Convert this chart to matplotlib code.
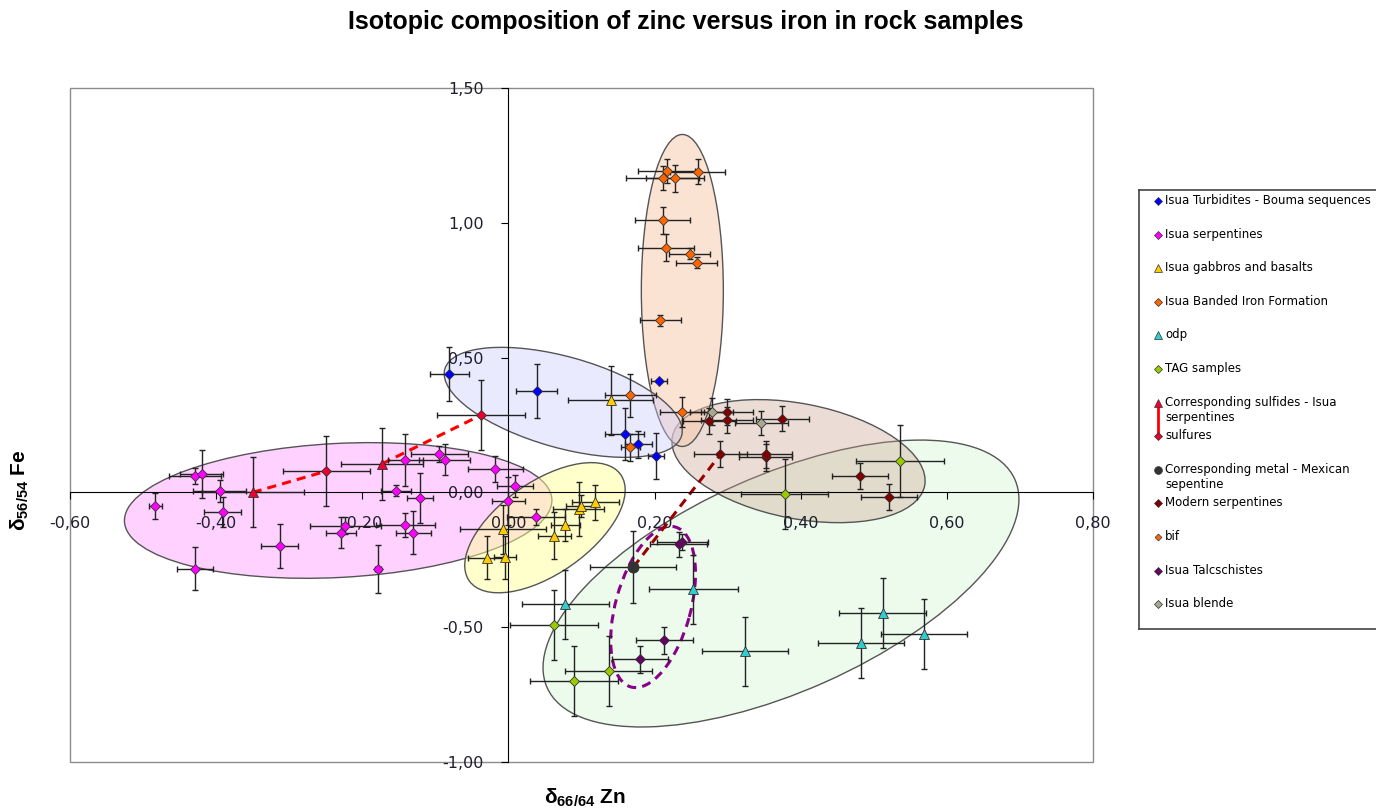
import numpy as np
import matplotlib
matplotlib.use("Agg")
import matplotlib.pyplot as plt
from matplotlib.patches import Ellipse, Rectangle
from matplotlib.transforms import ScaledTranslation
from matplotlib.colors import to_rgba
from matplotlib.ticker import FuncFormatter

plt.rcParams['font.family'] = ['DejaVu Sans']
plt.rcParams['mathtext.fontset'] = 'custom'
plt.rcParams['mathtext.rm'] = 'Liberation Sans'
plt.rcParams['mathtext.bf'] = 'Liberation Sans:bold'

# --- data (d66/64Zn, d56/54Fe, errors) ---
turb_x = [-0.081, 0.039, 0.159, 0.178, 0.206, 0.202]
turb_y = [0.438, 0.376, 0.218, 0.178, 0.413, 0.135]
turb_xe = [0.027, 0.028, 0.027, 0.018, 0.011, 0.011]
turb_ye = [0.100, 0.100, 0.096, 0.050, 0.005, 0.087]

serp_x = [-0.483, -0.429, -0.420, -0.395, -0.391, -0.429, -0.313, -0.229, -0.223, -0.179,
          -0.154, -0.141, -0.121, -0.141, -0.130, -0.095, -0.087, -0.018, 0.009, 0.000, 0.038]
serp_y = [-0.051, 0.060, 0.069, 0.005, -0.073, -0.283, -0.199, -0.150, -0.123, -0.283,
          0.007, 0.119, -0.022, -0.120, -0.150, 0.141, 0.122, 0.088, 0.023, -0.032, -0.092]
serp_xe = [0.009, 0.035, 0.030, 0.036, 0.025, 0.025, 0.025, 0.020, 0.048, 0.004,
           0.020, 0.024, 0.018, 0.040, 0.024, 0.039, 0.035, 0.038, 0.025, 0.022, 0.040]
serp_ye = [0.048, 0.030, 0.090, 0.040, 0.056, 0.080, 0.080, 0.057, 0.030, 0.089,
           0.020, 0.096, 0.093, 0.044, 0.080, 0.030, 0.056, 0.048, 0.040, 0.090, 0.030]

gab_x = [0.140, -0.007, -0.030, -0.005, 0.063, 0.078, 0.096, 0.099, 0.119]
gab_y = [0.341, -0.137, -0.242, -0.240, -0.160, -0.122, -0.061, -0.051, -0.036]
gab_xe = [0.058, 0.059, 0.026, 0.015, 0.023, 0.020, 0.035, 0.020, 0.032]
gab_ye = [0.127, 0.090, 0.080, 0.080, 0.087, 0.060, 0.100, 0.040, 0.065]

bif_isua_x = [0.217, 0.211, 0.228, 0.259, 0.211, 0.216, 0.248, 0.258, 0.208, 0.167, 0.238]
bif_isua_y = [1.192, 1.165, 1.165, 1.190, 1.009, 0.908, 0.886, 0.852, 0.638, 0.360, 0.299]
bif_isua_xe = [0.039, 0.050, 0.040, 0.038, 0.038, 0.038, 0.028, 0.028, 0.028, 0.035, 0.030]
bif_isua_ye = [0.046, 0.045, 0.050, 0.045, 0.050, 0.050, 0.020, 0.020, 0.020, 0.080, 0.055]

odp_x = [0.078, 0.253, 0.324, 0.512, 0.483, 0.569]
odp_y = [-0.415, -0.360, -0.589, -0.446, -0.558, -0.524]
odp_xe = [0.059, 0.061, 0.059, 0.059, 0.059, 0.059]
odp_ye = [0.128, 0.128, 0.128, 0.130, 0.130, 0.130]

tag_x = [0.536, 0.378, 0.062, 0.090, 0.137]
tag_y = [0.116, -0.007, -0.493, -0.700, -0.663]
tag_xe = [0.060, 0.060, 0.060, 0.060, 0.060]
tag_ye = [0.133, 0.130, 0.130, 0.130, 0.130]

sulfide_x = [-0.350, -0.173]
sulfide_y = [0.000, 0.106]
sulfide_xe = [0.070, 0.056]
sulfide_ye = [0.130, 0.133]

sulfure_x = [-0.249, -0.038]
sulfure_y = [0.079, 0.286]
sulfure_xe = [0.060, 0.060]
sulfure_ye = [0.130, 0.130]

metal_x = [0.171]
metal_y = [-0.277]
metal_xe = [0.059]
metal_ye = [0.133]

modern_x = [0.275, 0.299, 0.299, 0.375, 0.290, 0.352, 0.352, 0.481, 0.521]
modern_y = [0.265, 0.299, 0.267, 0.274, 0.141, 0.131, 0.141, 0.060, -0.016]
modern_xe = [0.036, 0.036, 0.036, 0.036, 0.036, 0.036, 0.036, 0.038, 0.038]
modern_ye = [0.048, 0.048, 0.048, 0.048, 0.048, 0.050, 0.050, 0.048, 0.048]

bif_x = [0.167]
bif_y = [0.168]
bif_xe = [0.013]
bif_ye = [0.050]

talc_x = [0.238, 0.233, 0.213, 0.180]
talc_y = [-0.183, -0.193, -0.548, -0.619]
talc_xe = [0.035, 0.039, 0.039, 0.038]
talc_ye = [0.030, 0.045, 0.050, 0.050]

blende_x = [0.278, 0.346]
blende_y = [0.300, 0.258]
blende_xe = [0.030, 0.036]
blende_ye = [0.050, 0.045]

labels = ["Isua Turbidites - Bouma sequences", "Isua serpentines", "Isua gabbros and basalts",
          "Isua Banded Iron Formation", "odp", "TAG samples",
          "Corresponding sulfides - Isua\nserpentines", "sulfures",
          "Corresponding metal - Mexican\nsepentine", "Modern serpentines", "bif",
          "Isua Talcschistes", "Isua blende"]

series = [
    (turb_x, turb_y, turb_xe, turb_ye, 'D', 5.6, '#0000FF'),
    (serp_x, serp_y, serp_xe, serp_ye, 'D', 5.6, '#FF00FF'),
    (gab_x, gab_y, gab_xe, gab_ye, '^', 7.4, '#FFCC00'),
    (bif_isua_x, bif_isua_y, bif_isua_xe, bif_isua_ye, 'D', 5.6, '#FF6600'),
    (odp_x, odp_y, odp_xe, odp_ye, '^', 7.4, '#33CCCC'),
    (tag_x, tag_y, tag_xe, tag_ye, 'D', 5.6, '#99CC00'),
    (sulfide_x, sulfide_y, sulfide_xe, sulfide_ye, '^', 7.4, '#EE0033'),
    (sulfure_x, sulfure_y, sulfure_xe, sulfure_ye, 'D', 5.6, '#E8002E'),
    (metal_x, metal_y, metal_xe, metal_ye, 'o', 8.0, '#333333'),
    (modern_x, modern_y, modern_xe, modern_ye, 'D', 5.6, '#800000'),
    (bif_x, bif_y, bif_xe, bif_ye, 'D', 5.0, '#FF6600'),
    (talc_x, talc_y, talc_xe, talc_ye, 'D', 5.6, '#660066'),
    (blende_x, blende_y, blende_xe, blende_ye, 'D', 5.6, '#A8A890'),
]

# outlined sample groups: centre (data), width/height in pixels, angle on screen
groups = [
    ((0.373, -0.338), 512, 216, 24, '#CCF5CC', 0.35),
    ((0.397, 0.116), 257, 115, -11, '#C8A08C', 0.35),
    ((0.238, 0.749), 82, 312, 0, '#F8C8A8', 0.5),
    ((0.075, 0.334), 246, 91, -15.7, '#CCCCFF', 0.4),
    ((-0.233, -0.067), 428, 134, 3, '#FF99FF', 0.45),
    ((0.050, -0.131), 185, 92, 35, '#FFFF99', 0.5),
]
talc_group = ((0.198, -0.425), 166, 75, 74.5)

fig = plt.figure(figsize=(13.76, 8.10), dpi=100)
ax = fig.add_axes([70 / 1376, 1 - 762 / 810, 1023 / 1376, 674 / 810])
ax.set_xlim(-0.6, 0.8)
ax.set_ylim(-1.0, 1.5)

for (cx, cy), w, h, ang, fc, al in groups:
    tr = fig.dpi_scale_trans + ScaledTranslation(cx, cy, ax.transData)
    ax.add_patch(Ellipse((0, 0), w / 100, h / 100, angle=ang, transform=tr,
                         facecolor=to_rgba(fc, al), edgecolor='#555555', lw=1, zorder=1))

(cx, cy), w, h, ang = talc_group
tr = fig.dpi_scale_trans + ScaledTranslation(cx, cy, ax.transData)
ax.add_patch(Ellipse((0, 0), w / 100, h / 100, angle=ang, transform=tr, fill=False,
                     edgecolor='#8B008B', lw=2.2, ls=(0, (3, 2)), zorder=2))

# pairs linked by dashed lines
for i in range(len(sulfide_x)):
    ax.plot([sulfide_x[i], sulfure_x[i]], [sulfide_y[i], sulfure_y[i]],
            color='#FF0000', lw=2.2, ls=(0, (3, 2)), zorder=2)
ax.plot([metal_x[0], modern_x[4]], [metal_y[0], modern_y[4]],
        color='#990000', lw=2.2, ls=(0, (3, 2)), zorder=2)

for x, y, xe, ye, m, ms, c in series:
    ax.errorbar(x, y, xerr=xe, yerr=ye, fmt='none', ecolor='#222222', elinewidth=1,
                capsize=2.5, capthick=1, zorder=3)
    ax.plot(x, y, ls='none', marker=m, ms=ms, mfc=c, mec='#333333', mew=0.6, zorder=4)

for s in ['top', 'right']:
    ax.spines[s].set_visible(False)
for s in ['left', 'bottom']:
    ax.spines[s].set_position(('data', 0))
    ax.spines[s].set_color('black')
ax.add_patch(Rectangle((0, 0), 1, 1, transform=ax.transAxes, fill=False,
                       ec='#8c8c8c', lw=1, clip_on=False, zorder=0))
ax.set_xticks(np.arange(-0.6, 0.81, 0.2))
ax.set_yticks(np.arange(-1.0, 1.51, 0.5))
fmt = FuncFormatter(lambda v, p: f"{v:.2f}".replace('.', ',').replace('-0,00', '0,00'))
ax.xaxis.set_major_formatter(fmt)
ax.yaxis.set_major_formatter(fmt)
ax.tick_params(axis='x', direction='out', length=5, pad=12, labelsize=11.5, labelcolor='#1f1f2f')
ax.tick_params(axis='y', direction='out', length=5, pad=13, labelsize=11.5, labelcolor='#1f1f2f')

fig.text(686 / 1376, 1 - 22 / 810, "Isotopic composition of zinc versus iron in rock samples",
         ha='center', va='center', fontsize=18, weight='bold', family='Liberation Sans')
fig.text(20 / 1376, 1 - 490 / 810, "δ$_{\\mathbf{56/54}}$ Fe", rotation=90, ha='center',
         va='center', fontsize=15, weight='bold', family='Liberation Sans')
fig.text(585 / 1376, 1 - 798 / 810, "δ$_{\\mathbf{66/64}}$ Zn", ha='center',
         va='center', fontsize=15, weight='bold', family='Liberation Sans')

# legend, drawn in pixel units
lg = fig.add_axes([1139 / 1376, 1 - 629 / 810, 241 / 1376, 439 / 810])
lg.set_xlim(1139, 1380)
lg.set_ylim(629, 190)
lg.set_xticks([])
lg.set_yticks([])
for s in lg.spines.values():
    s.set_color('#444444')
    s.set_linewidth(1.2)
for i, (lab, ser) in enumerate(zip(labels, series)):
    yy = 201 + 33.6 * i
    m, ms, c = ser[4], ser[5], ser[6]
    lg.plot(1157.5, yy, marker=m, ms=ms * 0.7, mfc=c, mec='#333333', mew=0.5,
            ls='none', zorder=3)
    lg.text(1165, yy - 7, lab, va='top', ha='left', fontsize=8.5, linespacing=1.2)
lg.plot([1157.5, 1157.5], [407, 432], color='#FF0000', lw=2, zorder=2)

fig.savefig("out.png", dpi=100)
